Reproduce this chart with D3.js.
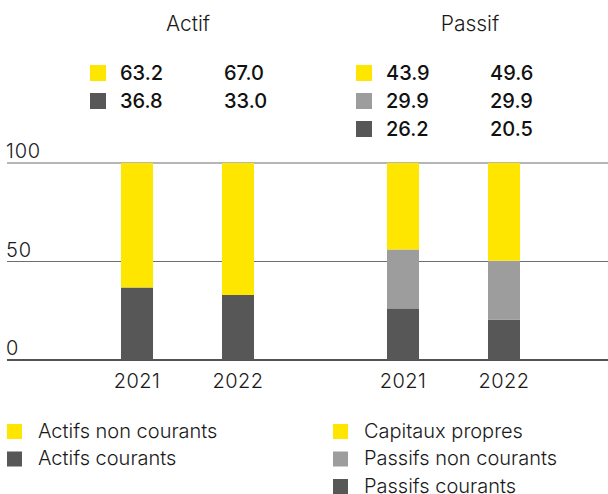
<!DOCTYPE html>
<html>
<head>
<meta charset="utf-8">
<script src="https://cdn.jsdelivr.net/npm/d3@7"></script>
<style>
html,body{margin:0;padding:0;background:#fff;}
svg{display:block;font-family:Inter, "Noto Sans", sans-serif;}
</style>
</head>
<body>
<svg id="chart" width="608" height="494"></svg>
<script>
const years = ["2021", "2022"];
const groups = ["Actif", "Passif"];
const actifSeries = ["Actifs courants", "Actifs non courants"];
const actifCourants = [36.8, 33.0];
const actifsNonCourants = [63.2, 67.0];
const passifSeries = ["Passifs courants", "Passifs non courants", "Capitaux propres"];
const passifsCourants = [26.2, 20.5];
const passifsNonCourants = [29.9, 29.9];
const capitauxPropres = [43.9, 49.6];
const yTicks = [0, 50, 100];

const colors = {
  "Actifs non courants": "#ffe600",
  "Actifs courants": "#575757",
  "Capitaux propres": "#ffe600",
  "Passifs non courants": "#9d9d9d",
  "Passifs courants": "#575757"
};

const svg = d3.select("#chart");
const y = d3.scaleLinear().domain([0, 100]).range([360, 163]);
const xActif = d3.scaleBand().domain(years).range([70.5, 304.5]).paddingInner(0.683).paddingOuter(0.5);
const xPassif = d3.scaleBand().domain(years).range([336.5, 570.5]).paddingInner(0.683).paddingOuter(0.5);

// gridlines
const grid = svg.append("g");
yTicks.forEach(t => {
  grid.append("line")
    .attr("x1", 7).attr("x2", 608)
    .attr("y1", y(t)).attr("y2", y(t))
    .attr("stroke", t === 0 ? "#1a1a1a" : "#6e6e6e")
    .attr("stroke-width", t === 0 ? 1.5 : 1.2);
  grid.append("text")
    .attr("x", 6).attr("y", y(t) - 5)
    .attr("font-size", 20).attr("font-weight", 300).attr("fill", "#1a1a1a")
    .attr("letter-spacing", 0.8)
    .text(t);
});

function drawStack(xs, keys, data) {
  const rows = years.map((yr, i) => {
    const o = {year: yr};
    keys.forEach((k, j) => o[k] = data[j][i]);
    return o;
  });
  const stack = d3.stack().keys(keys)(rows);
  const g = svg.append("g");
  stack.forEach(layer => {
    g.selectAll(null).data(layer).enter().append("rect")
      .attr("x", d => xs(d.data.year))
      .attr("width", xs.bandwidth())
      .attr("y", d => y(d[1]))
      .attr("height", d => y(d[0]) - y(d[1]))
      .attr("fill", colors[layer.key]);
  });
  years.forEach(yr => {
    svg.append("text")
      .attr("x", xs(yr) + xs.bandwidth() / 2)
      .attr("y", 388)
      .attr("text-anchor", "middle")
      .attr("font-size", 20).attr("font-weight", 300).attr("fill", "#1a1a1a")
      .attr("letter-spacing", 0.4)
      .text(yr);
  });
}
drawStack(xActif, actifSeries, [actifCourants, actifsNonCourants]);
drawStack(xPassif, passifSeries, [passifsCourants, passifsNonCourants, capitauxPropres]);

// titles
svg.append("text").attr("x", 188).attr("y", 31).attr("text-anchor", "middle")
  .attr("font-size", 21).attr("font-weight", 300).attr("fill", "#1a1a1a").text(groups[0]);
svg.append("text").attr("x", 470).attr("y", 31).attr("text-anchor", "middle")
  .attr("font-size", 21).attr("font-weight", 300).attr("fill", "#1a1a1a").text(groups[1]);

// top value legends
function valueLegend(x0, keys, data) {
  keys.forEach((k, i) => {
    const yy = 65 + i * 28;
    svg.append("rect").attr("x", x0).attr("y", yy).attr("width", 16).attr("height", 16)
      .attr("fill", colors[k]);
    data[i].forEach((v, j) => {
      svg.append("text").attr("x", x0 + 30 + j * 104).attr("y", yy + 15)
        .attr("font-size", 20).attr("font-weight", 500).attr("fill", "#111")
        .text(v.toFixed(1));
    });
  });
}
valueLegend(90, ["Actifs non courants", "Actifs courants"], [actifsNonCourants, actifCourants]);
valueLegend(356, ["Capitaux propres", "Passifs non courants", "Passifs courants"], [capitauxPropres, passifsNonCourants, passifsCourants]);

// bottom legends
function bottomLegend(x0, keys) {
  keys.forEach((k, i) => {
    const yy = 424 + i * 27.5;
    svg.append("rect").attr("x", x0).attr("y", yy).attr("width", 15).attr("height", 15)
      .attr("fill", colors[k]);
    svg.append("text").attr("x", x0 + 31).attr("y", yy + 13.5)
      .attr("font-size", 20).attr("font-weight", 300).attr("fill", "#1a1a1a")
      .text(k);
  });
}
bottomLegend(7, ["Actifs non courants", "Actifs courants"]);
bottomLegend(333, ["Capitaux propres", "Passifs non courants", "Passifs courants"]);
</script>
</body>
</html>
